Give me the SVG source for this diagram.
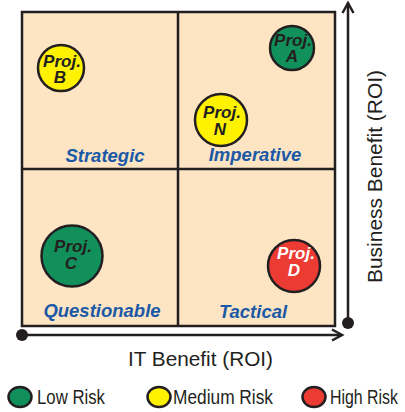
<svg xmlns="http://www.w3.org/2000/svg" width="405" height="412" viewBox="0 0 405 412">
  <style>
    .quad { fill: #fde5c4; stroke: #231f20; stroke-width: 2.5; }
    .grid { stroke: #231f20; stroke-width: 2.5; fill: none; }
    .axis { stroke: #231f20; stroke-width: 2.5; fill: none; }
    .proj { stroke: #231f20; stroke-width: 2.5; }
    .low { fill: #11905b; }
    .med { fill: #fff200; }
    .high { fill: #ec3b33; }
    .ptext { font-family: "Liberation Sans", Arial, sans-serif; font-weight: bold; font-style: italic; font-size: 17px; fill: #231f20; text-anchor: middle; }
    .ptext.white { fill: #ffffff; }
    .qlabel { font-family: "Liberation Sans", Arial, sans-serif; font-weight: bold; font-style: italic; font-size: 18.5px; fill: #1b59a6; text-anchor: middle; }
    .alabel { font-family: "Liberation Sans", Arial, sans-serif; font-size: 21px; fill: #231f20; }
    .legend { font-family: "Liberation Sans", Arial, sans-serif; font-size: 21px; fill: #231f20; }
  </style>
  <defs>
    <marker id="chevron" markerWidth="14" markerHeight="14" refX="11" refY="7" orient="auto" markerUnits="userSpaceOnUse">
      <path d="M1,1.5 L11,7 L1,12.5" fill="none" stroke="#231f20" stroke-width="2.5"/>
    </marker>
  </defs>

  <!-- quadrant box -->
  <g id="matrix">
    <rect class="quad" x="22" y="12" width="313" height="314"/>
    <line class="grid" x1="178" y1="12" x2="178" y2="326"/>
    <line class="grid" x1="22" y1="169" x2="335" y2="169"/>
  </g>

  <!-- axes -->
  <g id="connectors">
    <line class="axis" x1="22" y1="335" x2="342" y2="335" marker-end="url(#chevron)"/>
    <circle cx="22" cy="335" r="6" fill="#231f20"/>
    <line class="axis" x1="348" y1="323" x2="348" y2="3" marker-end="url(#chevron)"/>
    <circle cx="348" cy="323" r="6" fill="#231f20"/>
  </g>

  <!-- quadrant labels -->
  <g id="label-strategic"><text class="qlabel" x="105" y="162">Strategic</text></g>
  <g id="label-imperative"><text class="qlabel" x="255" y="161">Imperative</text></g>
  <g id="label-questionable"><text class="qlabel" x="102" y="317">Questionable</text></g>
  <g id="label-tactical"><text class="qlabel" x="253" y="318">Tactical</text></g>

  <!-- projects -->
  <g id="proj-b">
    <circle class="proj med" cx="61" cy="68" r="23"/>
    <text class="ptext"><tspan x="62" y="67">Proj.</tspan><tspan x="60" y="83">B</tspan></text>
  </g>
  <g id="proj-a">
    <circle class="proj low" cx="292" cy="48" r="22"/>
    <text class="ptext"><tspan x="293" y="46">Proj.</tspan><tspan x="292" y="62">A</tspan></text>
  </g>
  <g id="proj-n">
    <circle class="proj med" cx="221" cy="120" r="26"/>
    <text class="ptext"><tspan x="222" y="118">Proj.</tspan><tspan x="220" y="135">N</tspan></text>
  </g>
  <g id="proj-c">
    <circle class="proj low" cx="72" cy="256" r="30.5"/>
    <text class="ptext"><tspan x="73" y="252">Proj.</tspan><tspan x="71" y="269">C</tspan></text>
  </g>
  <g id="proj-d">
    <circle class="proj high" cx="294" cy="266" r="26"/>
    <text class="ptext white"><tspan x="296" y="259">Proj.</tspan><tspan x="294" y="276">D</tspan></text>
  </g>

  <!-- axis titles -->
  <g id="x-title">
    <text class="alabel" x="128" y="366" textLength="145" lengthAdjust="spacingAndGlyphs">IT Benefit (ROI)</text>
  </g>
  <g id="y-title">
    <text class="alabel" transform="translate(382,283) rotate(-90)" x="0" y="0" textLength="213" lengthAdjust="spacingAndGlyphs">Business Benefit (ROI)</text>
  </g>

  <!-- risk legend -->
  <g id="legend-low">
    <ellipse class="proj low" cx="20" cy="397" rx="11.5" ry="10"/>
    <text class="legend" x="37" y="404" textLength="68" lengthAdjust="spacingAndGlyphs">Low Risk</text>
  </g>
  <g id="legend-medium">
    <ellipse class="proj med" cx="159" cy="397" rx="11.5" ry="10"/>
    <text class="legend" x="173" y="404" textLength="100" lengthAdjust="spacingAndGlyphs">Medium Risk</text>
  </g>
  <g id="legend-high">
    <ellipse class="proj high" cx="314" cy="397" rx="11.5" ry="10"/>
    <text class="legend" x="330" y="404" textLength="68" lengthAdjust="spacingAndGlyphs">High Risk</text>
  </g>
</svg>
